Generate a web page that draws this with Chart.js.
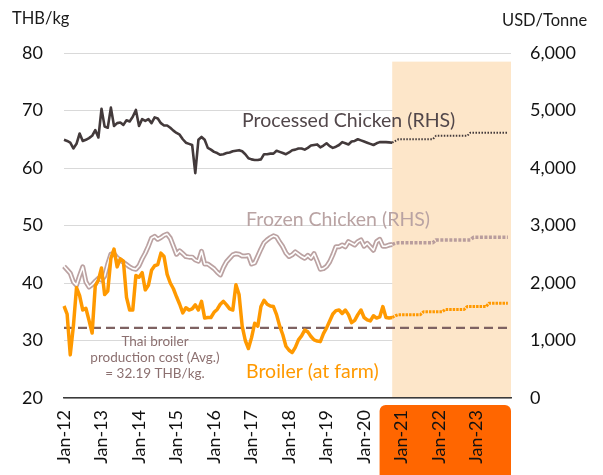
<!DOCTYPE html>
<html>
<head>
<meta charset="utf-8">
<title>Thai chicken prices</title>
<script src="https://cdn.jsdelivr.net/npm/chart.js@4.4.1/dist/chart.umd.min.js"></script>
<style>
  body { margin: 0; background: #fff; }
  #wrap { width: 603px; height: 475px; }
</style>
</head>
<body>
<div id="wrap"><canvas id="chart" width="603" height="475"></canvas></div>
<script>
// Categories: monthly, Jan-12 .. Dec-23
const months = ['Jan', 'Feb', 'Mar', 'Apr', 'May', 'Jun', 'Jul', 'Aug', 'Sep', 'Oct', 'Nov', 'Dec'];
const years = ['12', '13', '14', '15', '16', '17', '18', '19', '20', '21', '22', '23'];
const categories = [];
years.forEach(y => months.forEach(m => categories.push(m + '-' + y)));

// Processed chicken, USD/Tonne (RHS), Jan-12 .. Oct-20
const processedActual = [
  4490, 4470, 4440, 4340, 4420, 4600, 4470, 4490, 4520, 4560, 4660, 4530,
  5030, 4720, 4700, 5050, 4730, 4780, 4790, 4750, 4830, 4810, 4890, 5010,
  4730, 4850, 4820, 4850, 4780, 4880, 4860, 4780, 4740, 4740, 4700, 4650,
  4610, 4580, 4500, 4440, 4420, 4400, 3910, 4490, 4540, 4490, 4350, 4320,
  4280, 4260, 4230, 4240, 4260, 4270, 4290, 4300, 4310, 4290, 4240, 4170,
  4150, 4140, 4140, 4150, 4240, 4240, 4250, 4250, 4300, 4280, 4260, 4240,
  4270, 4310, 4320, 4340, 4340, 4320, 4350, 4390, 4400, 4410, 4360, 4390,
  4430, 4380, 4350, 4370, 4400, 4450, 4430, 4410, 4460, 4470, 4500, 4480,
  4460, 4440, 4420, 4400, 4430, 4450, 4450, 4450, 4445, 4440
];
// forecast, Oct-20 .. Nov-23
const processedForecast = [
  4440, 4470,
  4500, 4500, 4500, 4500, 4500, 4500, 4500, 4500, 4500, 4500, 4500, 4500,
  4560, 4560, 4560, 4560, 4560, 4560, 4560, 4560, 4560, 4560, 4560,
  4615, 4615, 4615, 4615, 4615, 4615, 4615, 4615, 4615, 4615, 4615, 4615, 4615
];

// Frozen chicken, USD/Tonne (RHS)
const frozenActual = [
  2290, 2230, 2170, 2020, 1960, 2130, 2280, 2020, 1930, 1970, 2030, 2080,
  2050, 2120, 2330, 2500, 2510, 2440, 2400, 2360, 2320, 2280, 2250, 2240,
  2300, 2420, 2520, 2640, 2780, 2810, 2760, 2790, 2830, 2850, 2780, 2640,
  2500, 2560, 2510, 2460, 2450, 2450, 2400, 2380, 2550, 2330, 2330, 2290,
  2250, 2190, 2140, 2270, 2370, 2430, 2490, 2510, 2500, 2470, 2470, 2480,
  2330, 2350, 2470, 2590, 2700, 2750, 2790, 2820, 2800, 2710, 2630, 2520,
  2460, 2490, 2540, 2500, 2460, 2430, 2480, 2430, 2510, 2380, 2240, 2250,
  2290, 2370, 2490, 2630, 2630, 2660, 2630, 2720, 2690, 2660, 2720, 2750,
  2640, 2690, 2630, 2570, 2720, 2760, 2640, 2640, 2660, 2670
];
const frozenForecast = [
  2670, 2690,
  2700, 2700, 2700, 2700, 2700, 2700, 2700, 2700, 2700, 2700, 2700, 2700,
  2750, 2750, 2750, 2750, 2750, 2750, 2750, 2750, 2750, 2750, 2750, 2750,
  2795, 2795, 2795, 2795, 2795, 2795, 2795, 2795, 2795, 2795, 2795, 2795
];

// Broiler at farm, THB/kg (LHS)
const broilerActual = [
  36.0, 34.6, 27.5, 32.5, 39.2, 37.8, 35.3, 35.6, 33.5, 31.3, 39.5, 40.5,
  42.6, 38.0, 38.6, 44.3, 45.9, 42.8, 44.2, 43.8, 37.5, 35.3, 35.3, 41.3,
  41.0, 41.8, 38.8, 39.6, 42.2, 43.0, 43.2, 45.2, 44.6, 41.5, 40.0, 39.0,
  37.6, 36.3, 34.8, 35.7, 35.3, 35.5, 36.2, 35.3, 36.8, 33.9, 34.0, 34.0,
  34.9, 35.4, 36.3, 36.8, 36.2, 35.5, 35.3, 39.7, 38.0, 32.5, 30.0, 28.6,
  30.5, 33.0, 32.5, 35.9, 37.0, 36.3, 36.0, 35.9, 34.5, 32.5, 31.0, 29.0,
  28.3, 27.9, 28.8, 30.1, 30.8, 31.8, 31.5, 30.7, 30.1, 29.9, 29.8, 31.2,
  32.2, 33.4, 34.6, 35.2, 35.3, 34.7, 35.3, 34.5, 33.1, 33.5, 34.5, 35.3,
  34.0, 33.6, 33.4, 34.3, 33.9, 34.1, 35.9, 34.0, 33.9, 34.0
];
const broilerForecast = [
  34.0, 34.3,
  34.5, 34.5, 34.5, 34.5, 34.5, 34.5, 34.5, 34.5,
  35.0, 35.0, 35.0, 35.0, 35.0, 35.0, 35.0,
  35.4, 35.4, 35.4, 35.4, 35.4, 35.4, 35.4,
  35.9, 35.9, 35.9, 35.9, 35.9, 35.9, 35.9,
  36.5, 36.5, 36.5, 36.5, 36.5, 36.5, 36.5
];

const productionCost = 32.19;
const forecastStart = 'Oct-20';
const shadeTop = 5850;
const leftTicks = [20, 30, 40, 50, 60, 70, 80];
const rightTicks = [0, 1000, 2000, 3000, 4000, 5000, 6000];

const startIdx = categories.indexOf(forecastStart);
const pad = arr => new Array(startIdx).fill(null).concat(arr);

const font = 'Lato';

// Shading, cost line, orange label box and texts
const decorPlugin = {
  id: 'decor',
  beforeDraw(chart) {
    const { ctx, chartArea, scales: { x } } = chart;
    const left = x.getPixelForValue(categories.indexOf('Jan-21')) - 22;
    ctx.save();
    ctx.fillStyle = '#FF6600';
    ctx.beginPath();
    ctx.roundRect(left, chartArea.bottom + 7, chartArea.right - left, 90, 6);
    ctx.fill();
    ctx.restore();
  },
  beforeDatasetsDraw(chart) {
    const { ctx, chartArea, scales: { x, y, y2 } } = chart;
    const sx = x.getPixelForValue(startIdx);
    const top = y2.getPixelForValue(shadeTop);
    ctx.save();
    ctx.fillStyle = '#FDE6C9';
    ctx.fillRect(sx, top, chartArea.right - sx, chartArea.bottom - top);

    const yc = y.getPixelForValue(productionCost);
    ctx.strokeStyle = '#7E6262';
    ctx.lineWidth = 2.2;
    ctx.setLineDash([9, 5]);
    ctx.beginPath();
    ctx.moveTo(chartArea.left, yc);
    ctx.lineTo(chartArea.right, yc);
    ctx.stroke();
    ctx.restore();
  },
  afterDatasetsDraw(chart) {
    const { ctx } = chart;
    ctx.save();
    ctx.textBaseline = 'alphabetic';
    ctx.textAlign = 'left';

    ctx.font = '16.5px ' + font;
    ctx.fillStyle = '#1A1A1A';
    ctx.fillText('THB/kg', 12, 24);
    ctx.fillText('USD/Tonne', 502, 26);

    ctx.font = '19.5px ' + font;
    ctx.fillStyle = '#52474A';
    ctx.fillText('Processed Chicken (RHS)', 242, 127);
    ctx.fillStyle = '#B9A3A3';
    ctx.fillText('Frozen Chicken (RHS)', 246, 226);
    ctx.fillStyle = '#FF9900';
    ctx.fillText('Broiler (at farm)', 246, 378);

    ctx.font = '13.5px ' + font;
    ctx.fillStyle = '#8C7070';
    ctx.textAlign = 'center';
    ctx.fillText('Thai broiler', 155, 346);
    ctx.fillText('production cost (Avg.)', 155, 362);
    ctx.fillText('= 32.19 THB/kg.', 155, 378);
    ctx.restore();
  }
};

const ctx = document.getElementById('chart').getContext('2d');
new Chart(ctx, {
  type: 'line',
  data: {
    labels: categories,
    datasets: [
      {
        label: 'Broiler (at farm)',
        data: broilerActual,
        yAxisID: 'y',
        borderColor: '#FF9900',
        borderWidth: 3.5,
        order: 0
      },
      {
        label: 'Broiler forecast',
        data: pad(broilerForecast),
        yAxisID: 'y',
        borderColor: '#FF9900',
        borderWidth: 3,
        borderDash: [2.5, 1],
        order: 0
      },
      {
        label: 'Processed Chicken (RHS)',
        data: processedActual,
        yAxisID: 'y2',
        borderColor: '#433A3B',
        borderWidth: 2.6,
        order: 1
      },
      {
        label: 'Processed forecast',
        data: pad(processedForecast),
        yAxisID: 'y2',
        borderColor: '#433A3B',
        borderWidth: 2,
        borderDash: [1.5, 1.5],
        order: 1
      },
      {
        label: 'Frozen Chicken (RHS) inner',
        data: frozenActual,
        yAxisID: 'y2',
        borderColor: '#FFFFFF',
        borderWidth: 1.6,
        order: 2
      },
      {
        label: 'Frozen Chicken (RHS)',
        data: frozenActual,
        yAxisID: 'y2',
        borderColor: '#BBA2A2',
        borderWidth: 5,
        order: 3
      },
      {
        label: 'Frozen forecast',
        data: pad(frozenForecast),
        yAxisID: 'y2',
        borderColor: '#B99D9D',
        borderWidth: 3.5,
        borderDash: [3, 1.5],
        order: 3
      }
    ]
  },
  options: {
    responsive: false,
    devicePixelRatio: 1,
    animation: false,
    layout: { padding: { top: 53, left: 0, right: 0, bottom: 0 } },
    elements: {
      point: { radius: 0, hoverRadius: 0 },
      line: { tension: 0, borderJoinStyle: 'round', borderCapStyle: 'butt' }
    },
    plugins: {
      legend: { display: false },
      tooltip: { enabled: false }
    },
    scales: {
      x: {
        type: 'category',
        offset: false,
        grid: { display: false, drawTicks: false },
        border: { display: true, color: '#3A3A3A', width: 1.5, z: 1 },
        ticks: {
          autoSkip: false,
          minRotation: 90,
          maxRotation: 90,
          padding: 12,
          color: '#111',
          font: { family: font, size: 18 },
          callback: function (value) {
            const label = this.getLabelForValue(value);
            return label.startsWith('Jan') ? label : '';
          }
        },
        afterFit: scale => { scale.height = 77; }
      },
      y: {
        position: 'left',
        min: 20,
        max: 80,
        afterBuildTicks: scale => { scale.ticks = leftTicks.map(v => ({ value: v })); },
        grid: { color: '#D9D9D9', lineWidth: 1, drawTicks: false },
        border: { display: false },
        ticks: { padding: 21, color: '#111', font: { family: font, size: 18 } },
        afterFit: scale => { scale.width = 64; }
      },
      y2: {
        position: 'right',
        min: 0,
        max: 6000,
        afterBuildTicks: scale => { scale.ticks = rightTicks.map(v => ({ value: v })); },
        grid: { display: false, drawTicks: false },
        border: { display: false },
        ticks: {
          padding: 19,
          color: '#111',
          font: { family: font, size: 18 },
          callback: v => v.toLocaleString('en-US')
        },
        afterFit: scale => { scale.width = 92; }
      }
    }
  },
  plugins: [decorPlugin]
});
</script>
</body>
</html>
